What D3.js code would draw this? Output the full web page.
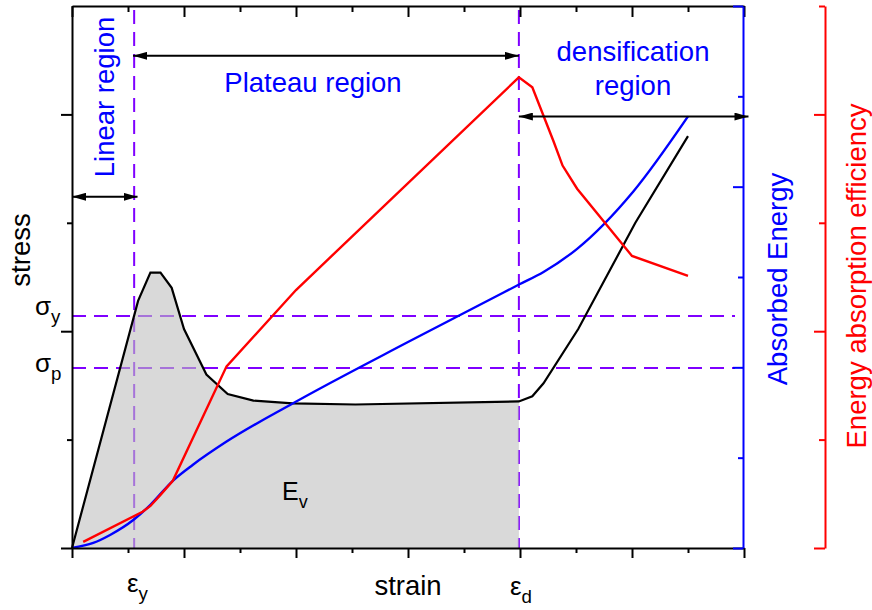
<!DOCTYPE html>
<html lang="en">
<head>
<meta charset="utf-8">
<title>Stress-strain energy absorption</title>
<script src="https://d3js.org/d3.v7.min.js"></script>
<style>
body{ margin:0; background:#fff; }
svg text{ font-family:"Liberation Sans", Arial, sans-serif; }
.axis path, .axis line{ stroke-width:2; }
</style>
</head>
<body>
<div id="chart"></div>
<script>
// stress-strain curve (black)
var strain = [0,0.59,0.70,0.79,0.89,1.0,1.2,1.39,1.62,1.97,2.53,3.99,4.11,4.21,4.52,5.03,5.5];
var stress = [0,1.14,1.27,1.27,1.2,1.01,0.8,0.71,0.68,0.667,0.662,0.676,0.7,0.76,1.01,1.5,1.9];
// absorbed energy (blue, right axis)
var energyStrain = [0,0.19,0.34,0.55,0.70,0.90,1.08,1.38,1.97,3.0,4.0,4.21,4.51,5.01,5.5];
var energy = [0,0.028,0.072,0.156,0.239,0.372,0.461,0.589,0.8,1.14,1.461,1.528,1.656,1.972,2.389];
// energy absorption efficiency (red, far right axis)
var effStrain = [0.1,0.63,0.70,0.79,0.90,1.38,2.0,3.99,4.11,4.3,4.38,4.51,5.0,5.5];
var efficiency = [0.028,0.167,0.194,0.245,0.31,0.838,1.19,2.171,2.125,1.875,1.764,1.657,1.347,1.255];

// ticks
var xMajor = [0,1,2,3,4,5,6], xMinor = [0.5,1.5,2.5,3.5,4.5,5.5];
var stressMajor = [0,1,2], stressMinor = [0.5,1.5];
var energyMajor = [0,1,2,3], energyMinor = [0.5,1.5,2.5];
var effMajor = [0,1,2], effMinor = [0.5,1.5,2.5];

// characteristic points
var epsY = 0.555, epsD = 3.99;
var sigmaY = 1.07, sigmaP = 0.83;

var W = 872, H = 610;
var mLeft = 72, mRight = 744, mTop = 6, mBottom = 548;

var svg = d3.select("#chart").append("svg")
  .attr("width", W).attr("height", H);

var x = d3.scaleLinear().domain([0,6]).range([mLeft,mRight]);
var yS = d3.scaleLinear().domain([0,2.5]).range([mBottom,mTop]);
var yE = d3.scaleLinear().domain([0,3]).range([mBottom,mTop]);
var yR = d3.scaleLinear().domain([0,2.5]).range([mBottom,mTop]);

var purple = "#7f00ff";

// dashed guides
var guides = svg.append("g").attr("stroke", purple).attr("stroke-width", 2)
  .attr("stroke-dasharray", "14,8").attr("fill", "none");
[epsY, epsD].forEach(function(e){
  guides.append("line").attr("x1", x(e)).attr("x2", x(e))
    .attr("y1", mTop+4).attr("y2", mBottom);
});
[sigmaY, sigmaP].forEach(function(s){
  guides.append("line").attr("x1", mLeft).attr("x2", 735)
    .attr("y1", yS(s)).attr("y2", yS(s));
});

// gray absorbed-energy area up to densification strain
var pts = strain.map(function(d,i){ return [d, stress[i]]; });
var areaPts = pts.filter(function(d){ return d[0] <= epsD; });
svg.append("path").datum(areaPts)
  .attr("fill", "#bfbfbf").attr("fill-opacity", 0.6)
  .attr("d", d3.area().x(function(d){return x(d[0]);}).y0(yS(0)).y1(function(d){return yS(d[1]);}));

svg.append("path").datum(pts)
  .attr("fill","none").attr("stroke","#000").attr("stroke-width",2.2)
  .attr("d", d3.line().x(function(d){return x(d[0]);}).y(function(d){return yS(d[1]);}));

svg.append("path").datum(energyStrain.map(function(d,i){ return [d, energy[i]]; }))
  .attr("fill","none").attr("stroke","#0000ff").attr("stroke-width",2.4)
  .attr("d", d3.line().curve(d3.curveMonotoneX).x(function(d){return x(d[0]);}).y(function(d){return yE(d[1]);}));

svg.append("path").datum(effStrain.map(function(d,i){ return [d, efficiency[i]]; }))
  .attr("fill","none").attr("stroke","#ff0000").attr("stroke-width",2.4)
  .attr("d", d3.line().x(function(d){return x(d[0]);}).y(function(d){return yR(d[1]);}));

// axes
function addAxis(gen, tx, ty, color, domain){
  var g = svg.append("g").attr("class","axis")
    .attr("transform","translate("+tx+","+ty+")")
    .call(gen.tickFormat("").tickSizeOuter(0));
  g.selectAll("line,path").attr("stroke", color);
  if(!domain) g.select(".domain").remove();
  return g;
}
addAxis(d3.axisBottom(x).tickValues(xMajor).tickSizeInner(10), 0, mBottom, "#000", true);
addAxis(d3.axisBottom(x).tickValues(xMinor).tickSizeInner(5), 0, mBottom, "#000", false);
addAxis(d3.axisTop(x).tickValues(xMajor).tickSizeInner(-11), 0, mTop, "#000", true);
addAxis(d3.axisTop(x).tickValues(xMinor).tickSizeInner(-6), 0, mTop, "#000", false);
addAxis(d3.axisLeft(yS).tickValues(stressMajor).tickSizeInner(11), mLeft, 0, "#000", true);
addAxis(d3.axisLeft(yS).tickValues(stressMinor).tickSizeInner(5), mLeft, 0, "#000", false);
addAxis(d3.axisRight(yE).tickValues(energyMajor).tickSizeInner(-10), 743, 0, "#0000ff", true);
addAxis(d3.axisRight(yE).tickValues(energyMinor).tickSizeInner(-5), 743, 0, "#0000ff", false);
addAxis(d3.axisLeft(yR).tickValues(effMajor).tickSizeInner(11), 825, 0, "#ff0000", true);
addAxis(d3.axisLeft(yR).tickValues(effMinor).tickSizeInner(6), 825, 0, "#ff0000", false);

// arrows
svg.append("defs").append("marker")
  .attr("id","arr").attr("viewBox","0 0 14 8").attr("refX",14).attr("refY",4)
  .attr("markerWidth",14).attr("markerHeight",8).attr("markerUnits","userSpaceOnUse")
  .attr("orient","auto-start-reverse")
  .append("path").attr("d","M0,0L14,4L0,8Z").attr("fill","#000");

var arrows = [
  {x0: 0, x1: epsY + 0.03, y: 1.62},
  {x0: epsY - 0.01, x1: epsD, y: 2.27},
  {x0: epsD, x1: 6.04, y: 1.99}
];
arrows.forEach(function(a){
  svg.append("line").attr("x1", x(a.x0)).attr("x2", x(a.x1))
    .attr("y1", yS(a.y)).attr("y2", yS(a.y))
    .attr("stroke","#000").attr("stroke-width",2)
    .attr("marker-start","url(#arr)").attr("marker-end","url(#arr)");
});

// region labels
var blue = "#0000ff";
svg.append("text").attr("transform","translate(114,97) rotate(-90)")
  .attr("text-anchor","middle").attr("fill",blue).attr("font-size",27.5).text("Linear region");
svg.append("text").attr("x",313).attr("y",92)
  .attr("text-anchor","middle").attr("fill",blue).attr("font-size",27.5).text("Plateau region");
svg.append("text").attr("x",633).attr("y",61)
  .attr("text-anchor","middle").attr("fill",blue).attr("font-size",27.5).text("densification");
svg.append("text").attr("x",633).attr("y",95)
  .attr("text-anchor","middle").attr("fill",blue).attr("font-size",27.5).text("region");

// axis titles
svg.append("text").attr("transform","translate(30,250) rotate(-90)")
  .attr("text-anchor","middle").attr("font-size",27.5).text("stress");
svg.append("text").attr("x",408).attr("y",595)
  .attr("text-anchor","middle").attr("font-size",27.5).text("strain");
svg.append("text").attr("transform","translate(787,279) rotate(-90)")
  .attr("text-anchor","middle").attr("fill",blue).attr("font-size",27.5).text("Absorbed Energy");
svg.append("text").attr("transform","translate(866,276) rotate(-90)")
  .attr("text-anchor","middle").attr("fill","#ff0000").attr("font-size",27.5).text("Energy absorption efficiency");

// symbols with subscripts
function sym(px, py, main, sub, size){
  var t = svg.append("text").attr("x",px).attr("y",py).attr("font-size",size);
  t.append("tspan").text(main);
  t.append("tspan").attr("dy", size*0.3).attr("font-size", size*0.72).text(sub);
}
sym(35, 315, "σ", "y", 26);
sym(35, 372, "σ", "p", 26);
sym(127, 592, "ε", "y", 26);
sym(510, 595, "ε", "d", 26);
sym(282, 500, "E", "v", 25);
</script>
</body>
</html>
